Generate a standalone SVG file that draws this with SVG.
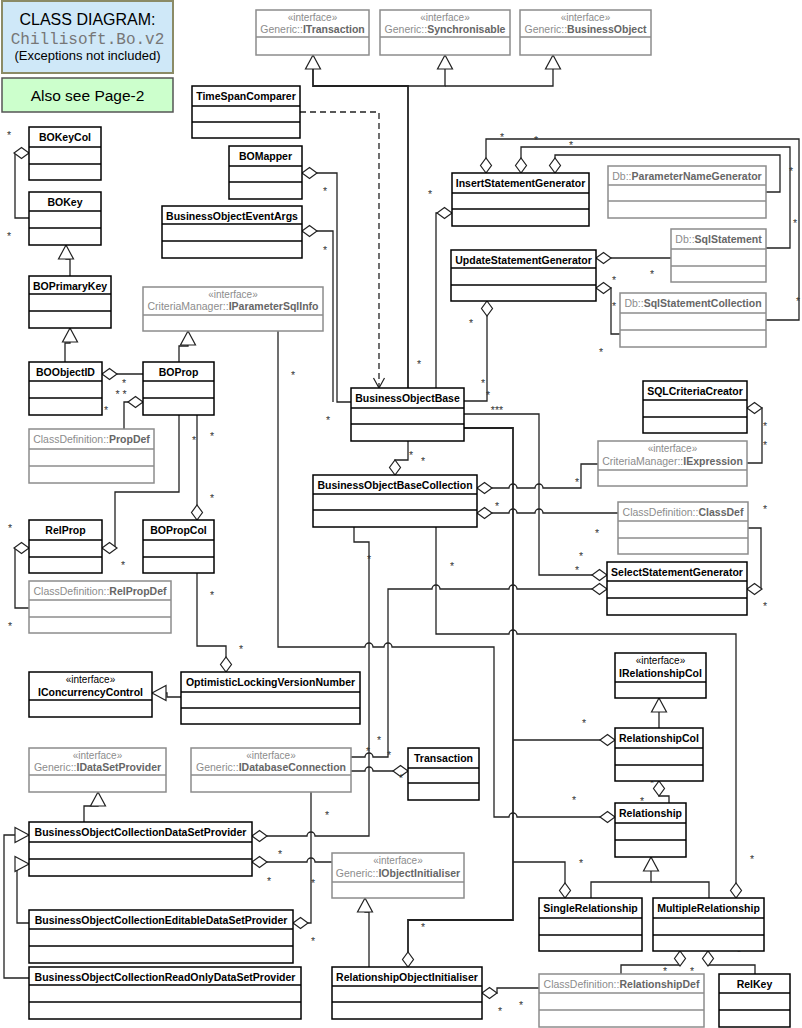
<svg xmlns="http://www.w3.org/2000/svg" width="802" height="1028" viewBox="0 0 802 1028">
<style>
text{font-family:"Liberation Sans",Arial,sans-serif}
.b rect{fill:#fff;stroke:#000;stroke-width:1.5}
.b line{stroke:#000;stroke-width:1.5}
.g rect{fill:#fff;stroke:#8c8c8c;stroke-width:1.5}
.g line{stroke:#8c8c8c;stroke-width:1.5}
.nm{font-size:10.5px;font-weight:bold;text-anchor:middle;fill:#000}
.g .nm{fill:#666}
.ns{font-weight:normal;fill:#8c8c8c}
.st{font-size:10px;text-anchor:middle;fill:#000}
.g .st{fill:#8c8c8c}
.c{fill:none;stroke:#222;stroke-width:1.3}
.m{font-size:10.5px;fill:#333;text-anchor:middle}
#multiplicities{opacity:0.99}
</style>
<defs>
<marker id="d" markerUnits="userSpaceOnUse" orient="auto" refX="0" refY="0" markerWidth="16" markerHeight="12" overflow="visible"><path d="M0,0 L7.5,-5.5 L15,0 L7.5,5.5 Z" fill="#fff" stroke="#222" stroke-width="1.2"/></marker>
<marker id="t" markerUnits="userSpaceOnUse" orient="auto" refX="0" refY="0" markerWidth="16" markerHeight="16" overflow="visible"><path d="M0,0 L-14,-7.5 L-14,7.5 Z" fill="#fff" stroke="#222" stroke-width="1.2"/></marker>
<marker id="a" markerUnits="userSpaceOnUse" orient="auto" refX="0" refY="0" markerWidth="12" markerHeight="12" overflow="visible"><path d="M-10,-5.5 L0,0 L-10,5.5" fill="none" stroke="#222" stroke-width="1.2"/></marker>
</defs>

<g id="title">
<rect x="2" y="1" width="171" height="72" fill="#cfe8f8" stroke="#8b8b66" stroke-width="2"/>
<text x="87.5" y="25" font-size="16" text-anchor="middle">CLASS DIAGRAM:</text>
<text x="87.5" y="44" font-size="16" text-anchor="middle" fill="#777" style="font-family:'Liberation Mono','Courier New',monospace">Chillisoft.Bo.v2</text>
<text x="87.5" y="60" font-size="13" text-anchor="middle">(Exceptions not included)</text>
</g>
<g id="also">
<rect x="2" y="78" width="171" height="34" fill="#ccffcc" stroke="#555" stroke-width="1.5"/>
<text x="87.5" y="101" font-size="15.5" text-anchor="middle">Also see Page-2</text>
</g>

<g id="connectors">
<path class="c" style="stroke-width:1.8" d="M408,388 V86 H313 V55" marker-end="url(#t)"/>
<path class="c" d="M408,86 H445 V55" marker-end="url(#t)"/>
<path class="c" d="M445,86 H553 V55" marker-end="url(#t)"/>
<path class="c" d="M300,112 H379 V388" stroke-dasharray="6,4" marker-end="url(#a)"/>
<path class="c" d="M302,173 H337 V402 H351" marker-start="url(#d)"/>
<path class="c" d="M302,231 H333 V402" marker-start="url(#d)"/>
<path class="c" d="M452,213 H436 V388" marker-start="url(#d)"/>
<path class="c" d="M486,173 V139 H799 V320 H766" marker-start="url(#d)"/>
<path class="c" d="M521,173 V147 H790 V248 H766" marker-start="url(#d)"/>
<path class="c" d="M555,173 V155 H780 V192 H766" marker-start="url(#d)"/>
<path class="c" d="M596,258 H671" marker-start="url(#d)"/>
<path class="c" d="M596,288 H611 V334 H620" marker-start="url(#d)"/>
<path class="c" d="M487,301 V401 H464" marker-start="url(#d)"/>
<path class="c" d="M607,575 H539 V414 H464" marker-start="url(#d)"/>
<path class="c" style="stroke-width:1.8" d="M408,967 V920 H513 V428 H464" marker-start="url(#d)"/>
<path class="c" d="M615,740 H513" marker-start="url(#d)"/>
<path class="c" d="M565,898 V862 H513" marker-start="url(#d)"/>
<path class="c" d="M395,475 V460 H408 V441" marker-start="url(#d)"/>
<path class="c" d="M477,488 H509 a4,4 0 0 1 8,0 H535 a4,4 0 0 1 8,0 H581 V464 H598" marker-start="url(#d)"/>
<path class="c" d="M477,513 H509 a4,4 0 0 1 8,0 H535 a4,4 0 0 1 8,0 H618" marker-start="url(#d)"/>
<path class="c" d="M747,408 H762 V463 H747" marker-start="url(#d)"/>
<path class="c" d="M747,589 H761 V528 H748" marker-start="url(#d)"/>
<path class="c" d="M607,589 H517 a4,4 0 0 0 -8,0 H440 a4,4 0 0 0 -8,0 H388 V757 H373 a4,4 0 0 0 -8,0 H351" marker-start="url(#d)"/>
<path class="c" d="M252,836 H307 a4,4 0 0 1 8,0 H369 V542 H354 V527" marker-start="url(#d)"/>
<path class="c" d="M252,862 H307 a4,4 0 0 1 8,0 H332" marker-start="url(#d)"/>
<path class="c" d="M293,923 H311 V792" marker-start="url(#d)"/>
<path class="c" d="M408,771 H373 a4,4 0 0 0 -8,0 H351" marker-start="url(#d)"/>
<path class="c" d="M615,817 H517 a4,4 0 0 0 -8,0 H494 V647 H392 a4,4 0 0 0 -8,0 H373 a4,4 0 0 0 -8,0 H278 V331" marker-start="url(#d)"/>
<path class="c" d="M736,898 V634 H517 a4,4 0 0 0 -8,0 H436 V527" marker-start="url(#d)"/>
<path class="c" d="M482,993 H497 V988 H539" marker-start="url(#d)"/>
<path class="c" d="M659,781 V796 H669 V803" marker-start="url(#d)"/>
<path class="c" d="M659,728 V698" marker-end="url(#t)"/>
<path class="c" d="M591,898 V882 H651 V857" marker-end="url(#t)"/>
<path class="c" d="M709,898 V882 H651"/>
<path class="c" d="M680,951 V965 H621 V974" marker-start="url(#d)"/>
<path class="c" d="M708,951 V965 H755 V974" marker-start="url(#d)"/>
<path class="c" d="M369,967 V912 H365 V898" marker-end="url(#t)"/>
<path class="c" d="M84,822 V806 H98 V792" marker-end="url(#t)"/>
<path class="c" d="M29,923 H17 V864 H29" marker-end="url(#t)"/>
<path class="c" d="M29,978 H4 V835 H29" marker-end="url(#t)"/>
<path class="c" d="M181,697 H167 V693 H152" marker-end="url(#t)"/>
<path class="c" d="M70,276 V259 H66 V245" marker-end="url(#t)"/>
<path class="c" d="M65,362 V343 H70 V328" marker-end="url(#t)"/>
<path class="c" d="M179,362 V346 H188 V331" marker-end="url(#t)"/>
<path class="c" d="M29,153 H15 V218 H29" marker-start="url(#d)"/>
<path class="c" d="M102,374 H143" marker-start="url(#d)"/>
<path class="c" d="M143,402 H124 V429" marker-start="url(#d)"/>
<path class="c" d="M102,548 H115 V492 H179 V415" marker-start="url(#d)"/>
<path class="c" d="M197,520 V415" marker-start="url(#d)"/>
<path class="c" d="M29,548 H15 V608 H29" marker-start="url(#d)"/>
<path class="c" d="M226,672 V646 H197 V573" marker-start="url(#d)"/>
</g>

<g id="multiplicities">
<text class="m" x="9" y="139">*</text>
<text class="m" x="9" y="240">*</text>
<text class="m" x="325" y="195">*</text>
<text class="m" x="325" y="254">*</text>
<text class="m" x="430" y="198">*</text>
<text class="m" x="502" y="141">*</text>
<text class="m" x="536" y="144">*</text>
<text class="m" x="571" y="149">*</text>
<text class="m" x="791" y="175">*</text>
<text class="m" x="795" y="227">*</text>
<text class="m" x="798" y="305">*</text>
<text class="m" x="652" y="278">*</text>
<text class="m" x="614" y="284">*</text>
<text class="m" x="614" y="310">*</text>
<text class="m" x="601" y="356">*</text>
<text class="m" x="419" y="368">*</text>
<text class="m" x="471" y="327">*</text>
<text class="m" x="483" y="387">*</text>
<text class="m" x="488" y="399">*</text>
<text class="m" x="497" y="414">***</text>
<text class="m" x="293" y="379">*</text>
<text class="m" x="328" y="424">*</text>
<text class="m" x="411" y="459">*</text>
<text class="m" x="423" y="465">*</text>
<text class="m" x="765" y="430">*</text>
<text class="m" x="765" y="449">*</text>
<text class="m" x="577" y="486">*</text>
<text class="m" x="497" y="510">*</text>
<text class="m" x="765" y="513">*</text>
<text class="m" x="597" y="537">*</text>
<text class="m" x="581" y="560">*</text>
<text class="m" x="577" y="574">*</text>
<text class="m" x="765" y="610">*</text>
<text class="m" x="452" y="570">*</text>
<text class="m" x="369" y="563">*</text>
<text class="m" x="124" y="387">*</text>
<text class="m" x="121" y="398">* *</text>
<text class="m" x="106" y="414">*</text>
<text class="m" x="194" y="444">*</text>
<text class="m" x="212" y="440">*</text>
<text class="m" x="212" y="502">*</text>
<text class="m" x="10" y="532">*</text>
<text class="m" x="10" y="630">*</text>
<text class="m" x="123" y="569">*</text>
<text class="m" x="212" y="599">*</text>
<text class="m" x="241" y="653">*</text>
<text class="m" x="379" y="744">*</text>
<text class="m" x="368" y="755">*</text>
<text class="m" x="389" y="759">*</text>
<text class="m" x="401" y="782">*</text>
<text class="m" x="327" y="819">*</text>
<text class="m" x="280" y="858">*</text>
<text class="m" x="269" y="885">*</text>
<text class="m" x="313" y="887">*</text>
<text class="m" x="313" y="945">*</text>
<text class="m" x="423" y="931">*</text>
<text class="m" x="500" y="1015">*</text>
<text class="m" x="521" y="1009">*</text>
<text class="m" x="584" y="727">*</text>
<text class="m" x="574" y="804">*</text>
<text class="m" x="642" y="805">*</text>
<text class="m" x="652" y="787">*</text>
<text class="m" x="581" y="867">*</text>
<text class="m" x="752" y="863">*</text>
<text class="m" x="665" y="975">*</text>
<text class="m" x="692" y="975">*</text>
<text class="m" x="739" y="956">*</text>
</g>

<g id="ITransaction" class="g"><rect x="256" y="10" width="113" height="45"/><line x1="256" y1="37" x2="369" y2="37"/><text class="st" x="312.5" y="21">«interface»</text><text class="nm" x="312.5" y="33"><tspan class="ns">Generic::</tspan>ITransaction</text></g>
<g id="Synchronisable" class="g"><rect x="380" y="10" width="130" height="45"/><line x1="380" y1="37" x2="510" y2="37"/><text class="st" x="445" y="21">«interface»</text><text class="nm" x="445" y="33"><tspan class="ns">Generic::</tspan>Synchronisable</text></g>
<g id="BusinessObject" class="g"><rect x="520" y="10" width="131" height="45"/><line x1="520" y1="37" x2="651" y2="37"/><text class="st" x="585.5" y="21">«interface»</text><text class="nm" x="585.5" y="33"><tspan class="ns">Generic::</tspan>BusinessObject</text></g>

<g id="TimeSpanComparer" class="b"><rect x="192" y="86" width="108" height="52"/><line x1="192" y1="106" x2="300" y2="106"/><line x1="192" y1="122" x2="300" y2="122"/><text class="nm" x="246" y="100">TimeSpanComparer</text></g>
<g id="BOMapper" class="b"><rect x="229" y="146" width="73" height="53"/><line x1="229" y1="166" x2="302" y2="166"/><line x1="229" y1="182" x2="302" y2="182"/><text class="nm" x="265.5" y="160">BOMapper</text></g>
<g id="BusinessObjectEventArgs" class="b"><rect x="162" y="206" width="140" height="52"/><line x1="162" y1="224" x2="302" y2="224"/><line x1="162" y1="241" x2="302" y2="241"/><text class="nm" x="232" y="220">BusinessObjectEventArgs</text></g>
<g id="BOKeyCol" class="b"><rect x="29" y="127" width="72" height="53"/><line x1="29" y1="147" x2="101" y2="147"/><line x1="29" y1="164" x2="101" y2="164"/><text class="nm" x="65" y="141">BOKeyCol</text></g>
<g id="BOKey" class="b"><rect x="29" y="192" width="72" height="53"/><line x1="29" y1="211" x2="101" y2="211"/><line x1="29" y1="228" x2="101" y2="228"/><text class="nm" x="65" y="206">BOKey</text></g>
<g id="BOPrimaryKey" class="b"><rect x="29" y="276" width="82" height="52"/><line x1="29" y1="294" x2="111" y2="294"/><line x1="29" y1="311" x2="111" y2="311"/><text class="nm" x="70" y="290">BOPrimaryKey</text></g>
<g id="BOObjectID" class="b"><rect x="29" y="362" width="73" height="53"/><line x1="29" y1="381" x2="102" y2="381"/><line x1="29" y1="398" x2="102" y2="398"/><text class="nm" x="65.5" y="376">BOObjectID</text></g>
<g id="BOProp" class="b"><rect x="143" y="362" width="71" height="53"/><line x1="143" y1="381" x2="214" y2="381"/><line x1="143" y1="398" x2="214" y2="398"/><text class="nm" x="178.5" y="376">BOProp</text></g>
<g id="PropDef" class="g"><rect x="29" y="429" width="125" height="54"/><line x1="29" y1="449" x2="154" y2="449"/><line x1="29" y1="466" x2="154" y2="466"/><text class="nm" x="91.5" y="443"><tspan class="ns">ClassDefinition::</tspan>PropDef</text></g>
<g id="RelProp" class="b"><rect x="29" y="520" width="73" height="53"/><line x1="29" y1="540" x2="102" y2="540"/><line x1="29" y1="557" x2="102" y2="557"/><text class="nm" x="65.5" y="534">RelProp</text></g>
<g id="BOPropCol" class="b"><rect x="143" y="520" width="71" height="53"/><line x1="143" y1="540" x2="214" y2="540"/><line x1="143" y1="557" x2="214" y2="557"/><text class="nm" x="178.5" y="534">BOPropCol</text></g>
<g id="RelPropDef" class="g"><rect x="29" y="581" width="142" height="52"/><line x1="29" y1="600" x2="171" y2="600"/><line x1="29" y1="617" x2="171" y2="617"/><text class="nm" x="100" y="595"><tspan class="ns">ClassDefinition::</tspan>RelPropDef</text></g>
<g id="IConcurrencyControl" class="b"><rect x="29" y="672" width="123" height="45"/><line x1="29" y1="700" x2="152" y2="700"/><text class="st" x="90.5" y="683">«interface»</text><text class="nm" x="90.5" y="696">IConcurrencyControl</text></g>
<g id="OptimisticLockingVersionNumber" class="b"><rect x="181" y="672" width="179" height="52"/><line x1="181" y1="692" x2="360" y2="692"/><line x1="181" y1="708" x2="360" y2="708"/><text class="nm" x="270.5" y="686">OptimisticLockingVersionNumber</text></g>
<g id="IDataSetProvider" class="g"><rect x="29" y="748" width="137" height="44"/><line x1="29" y1="775" x2="166" y2="775"/><text class="st" x="97.5" y="759">«interface»</text><text class="nm" x="97.5" y="771"><tspan class="ns">Generic::</tspan>IDataSetProvider</text></g>
<g id="IDatabaseConnection" class="g"><rect x="191" y="748" width="160" height="44"/><line x1="191" y1="775" x2="351" y2="775"/><text class="st" x="271" y="759">«interface»</text><text class="nm" x="271" y="771"><tspan class="ns">Generic::</tspan>IDatabaseConnection</text></g>
<g id="Transaction" class="b"><rect x="408" y="748" width="71" height="52"/><line x1="408" y1="768" x2="479" y2="768"/><line x1="408" y1="783" x2="479" y2="783"/><text class="nm" x="443.5" y="762">Transaction</text></g>
<g id="BusinessObjectCollectionDataSetProvider" class="b"><rect x="29" y="822" width="223" height="54"/><line x1="29" y1="842" x2="252" y2="842"/><line x1="29" y1="859" x2="252" y2="859"/><text class="nm" x="140.5" y="836">BusinessObjectCollectionDataSetProvider</text></g>
<g id="BusinessObjectCollectionEditableDataSetProvider" class="b"><rect x="29" y="910" width="264" height="53"/><line x1="29" y1="929" x2="293" y2="929"/><line x1="29" y1="946" x2="293" y2="946"/><text class="nm" x="161" y="924">BusinessObjectCollectionEditableDataSetProvider</text></g>
<g id="BusinessObjectCollectionReadOnlyDataSetProvider" class="b"><rect x="29" y="967" width="272" height="52"/><line x1="29" y1="985" x2="301" y2="985"/><line x1="29" y1="1002" x2="301" y2="1002"/><text class="nm" x="165" y="981">BusinessObjectCollectionReadOnlyDataSetProvider</text></g>
<g id="IObjectInitialiser" class="g"><rect x="332" y="853" width="132" height="45"/><line x1="332" y1="882" x2="464" y2="882"/><text class="st" x="398" y="864">«interface»</text><text class="nm" x="398" y="877"><tspan class="ns">Generic::</tspan>IObjectInitialiser</text></g>
<g id="RelationshipObjectInitialiser" class="b"><rect x="332" y="967" width="150" height="52"/><line x1="332" y1="986" x2="482" y2="986"/><line x1="332" y1="1002" x2="482" y2="1002"/><text class="nm" x="407" y="981">RelationshipObjectInitialiser</text></g>
<g id="InsertStatementGenerator" class="b"><rect x="452" y="173" width="137" height="53"/><line x1="452" y1="193" x2="589" y2="193"/><line x1="452" y1="209" x2="589" y2="209"/><text class="nm" x="520.5" y="187">InsertStatementGenerator</text></g>
<g id="UpdateStatementGenerator" class="b"><rect x="451" y="250" width="145" height="51"/><line x1="451" y1="268" x2="596" y2="268"/><line x1="451" y1="285" x2="596" y2="285"/><text class="nm" x="523.5" y="264">UpdateStatementGenerator</text></g>
<g id="ParameterNameGenerator" class="g"><rect x="608" y="166" width="158" height="52"/><line x1="608" y1="185" x2="766" y2="185"/><line x1="608" y1="201" x2="766" y2="201"/><text class="nm" x="687" y="180"><tspan class="ns">Db::</tspan>ParameterNameGenerator</text></g>
<g id="SqlStatement" class="g"><rect x="671" y="229" width="95" height="53"/><line x1="671" y1="249" x2="766" y2="249"/><line x1="671" y1="266" x2="766" y2="266"/><text class="nm" x="718.5" y="243"><tspan class="ns">Db::</tspan>SqlStatement</text></g>
<g id="SqlStatementCollection" class="g"><rect x="620" y="293" width="146" height="54"/><line x1="620" y1="313" x2="766" y2="313"/><line x1="620" y1="330" x2="766" y2="330"/><text class="nm" x="693" y="307"><tspan class="ns">Db::</tspan>SqlStatementCollection</text></g>
<g id="IParameterSqlInfo" class="g"><rect x="143" y="287" width="180" height="44"/><line x1="143" y1="315" x2="323" y2="315"/><text class="st" x="233" y="298">«interface»</text><text class="nm" x="233" y="310"><tspan class="ns">CriteriaManager::</tspan>IParameterSqlInfo</text></g>
<g id="BusinessObjectBase" class="b"><rect x="351" y="388" width="113" height="53"/><line x1="351" y1="408" x2="464" y2="408"/><line x1="351" y1="424" x2="464" y2="424"/><text class="nm" x="407.5" y="402">BusinessObjectBase</text></g>
<g id="BusinessObjectBaseCollection" class="b"><rect x="313" y="475" width="164" height="52"/><line x1="313" y1="494" x2="477" y2="494"/><line x1="313" y1="510" x2="477" y2="510"/><text class="nm" x="395" y="489">BusinessObjectBaseCollection</text></g>
<g id="SQLCriteriaCreator" class="b"><rect x="643" y="381" width="104" height="52"/><line x1="643" y1="400" x2="747" y2="400"/><line x1="643" y1="417" x2="747" y2="417"/><text class="nm" x="695" y="395">SQLCriteriaCreator</text></g>
<g id="IExpression" class="g"><rect x="598" y="441" width="149" height="45"/><line x1="598" y1="470" x2="747" y2="470"/><text class="st" x="672.5" y="452">«interface»</text><text class="nm" x="672.5" y="465"><tspan class="ns">CriteriaManager::</tspan>IExpression</text></g>
<g id="ClassDef" class="g"><rect x="618" y="502" width="130" height="52"/><line x1="618" y1="521" x2="748" y2="521"/><line x1="618" y1="538" x2="748" y2="538"/><text class="nm" x="683" y="516"><tspan class="ns">ClassDefinition::</tspan>ClassDef</text></g>
<g id="SelectStatementGenerator" class="b"><rect x="607" y="562" width="140" height="53"/><line x1="607" y1="581" x2="747" y2="581"/><line x1="607" y1="598" x2="747" y2="598"/><text class="nm" x="677" y="576">SelectStatementGenerator</text></g>
<g id="IRelationshipCol" class="b"><rect x="615" y="653" width="91" height="45"/><line x1="615" y1="682" x2="706" y2="682"/><text class="st" x="660.5" y="664">«interface»</text><text class="nm" x="660.5" y="677">IRelationshipCol</text></g>
<g id="RelationshipCol" class="b"><rect x="615" y="728" width="88" height="53"/><line x1="615" y1="748" x2="703" y2="748"/><line x1="615" y1="765" x2="703" y2="765"/><text class="nm" x="659" y="742">RelationshipCol</text></g>
<g id="Relationship" class="b"><rect x="615" y="803" width="71" height="54"/><line x1="615" y1="823" x2="686" y2="823"/><line x1="615" y1="840" x2="686" y2="840"/><text class="nm" x="650.5" y="817">Relationship</text></g>
<g id="SingleRelationship" class="b"><rect x="539" y="898" width="103" height="53"/><line x1="539" y1="918" x2="642" y2="918"/><line x1="539" y1="935" x2="642" y2="935"/><text class="nm" x="590.5" y="912">SingleRelationship</text></g>
<g id="MultipleRelationship" class="b"><rect x="653" y="898" width="111" height="53"/><line x1="653" y1="918" x2="764" y2="918"/><line x1="653" y1="935" x2="764" y2="935"/><text class="nm" x="708.5" y="912">MultipleRelationship</text></g>
<g id="RelationshipDef" class="g"><rect x="539" y="974" width="165" height="53"/><line x1="539" y1="993" x2="704" y2="993"/><line x1="539" y1="1010" x2="704" y2="1010"/><text class="nm" x="621.5" y="988"><tspan class="ns">ClassDefinition::</tspan>RelationshipDef</text></g>
<g id="RelKey" class="b"><rect x="719" y="974" width="71" height="53"/><line x1="719" y1="993" x2="790" y2="993"/><line x1="719" y1="1010" x2="790" y2="1010"/><text class="nm" x="754.5" y="988">RelKey</text></g>
</svg>
